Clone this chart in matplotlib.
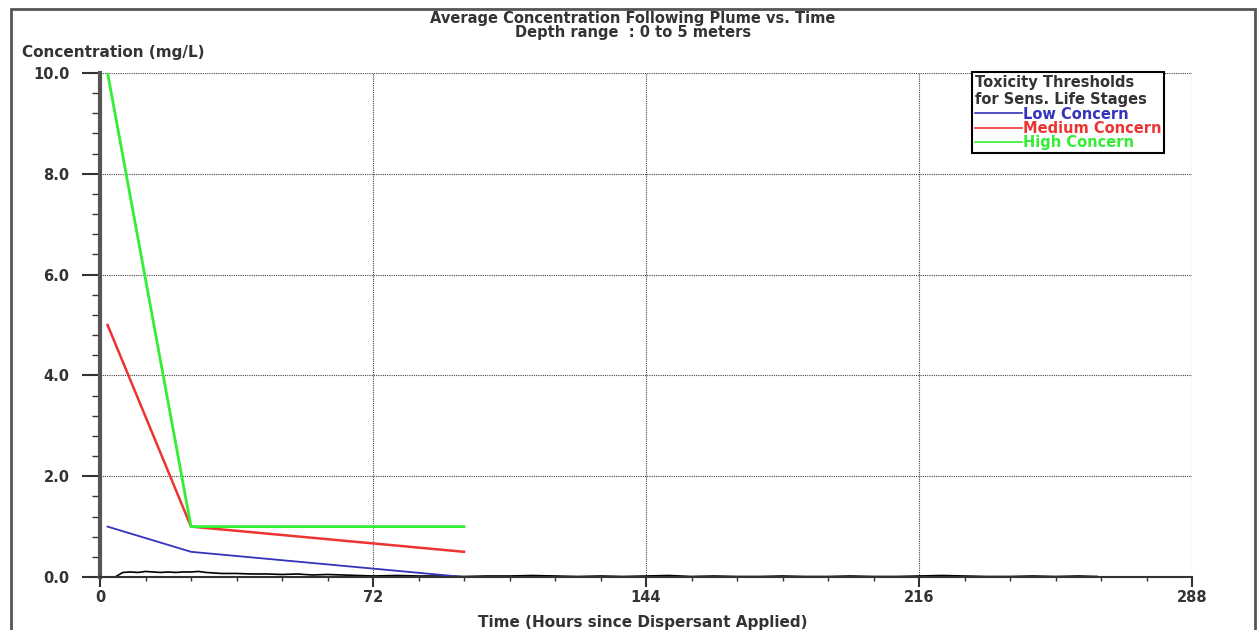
import numpy as np
import matplotlib.pyplot as plt
from matplotlib.patches import Rectangle
from matplotlib.lines import Line2D


# threshold lines (hours, mg/L)
thr_hours = [2, 24, 96]
low_vals = [1.0, 0.5, 0.0]
med_vals = [5.0, 1.0, 0.5]
high_vals = [10.0, 1.0, 1.0]

# average plume concentration
plume_hours = [4, 6, 8, 10, 12, 14, 16, 18, 20, 22, 24, 26, 28, 30, 32, 36, 40, 44,
               48, 52, 56, 60, 64, 68, 72, 78, 84, 90, 96, 102, 108, 114, 120, 126,
               132, 138, 144, 150, 156, 162, 168, 174, 180, 186, 192, 198, 204, 210,
               216, 222, 228, 234, 240, 246, 252, 258, 263]
plume_vals = [0.0, 0.09, 0.1, 0.09, 0.11, 0.1, 0.09, 0.1, 0.09, 0.1, 0.1, 0.11, 0.09,
              0.08, 0.07, 0.07, 0.06, 0.06, 0.05, 0.06, 0.04, 0.05, 0.04, 0.03, 0.02,
              0.03, 0.02, 0.02, 0.01, 0.02, 0.02, 0.03, 0.02, 0.01, 0.02, 0.01, 0.02,
              0.03, 0.01, 0.02, 0.01, 0.01, 0.02, 0.01, 0.01, 0.02, 0.01, 0.01, 0.02,
              0.03, 0.02, 0.01, 0.01, 0.02, 0.01, 0.02, 0.01]

legend_labels = ["Low Concern", "Medium Concern", "High Concern"]
colors = ["#3333bb", "#ee3333", "#33ee33"]
TXT = '#333333'


plt.rcParams['font.family'] = 'DejaVu Sans'
plt.rcParams['font.weight'] = 'bold'
fig = plt.figure(figsize=(12.58, 6.3), dpi=100)
ax = fig.add_axes([100/1258, 1 - 577/630, 1092/1258, 504/630])

ax.plot(plume_hours, plume_vals, color='black', lw=1.2)
ax.plot(thr_hours, low_vals, color=colors[0], lw=1.3)
ax.plot(thr_hours, med_vals, color=colors[1], lw=1.8)
ax.plot(thr_hours, high_vals, color=colors[2], lw=2)

ax.set_xlim(0, 288)
ax.set_ylim(0, 10)
ax.set_xticks([0, 72, 144, 216, 288])
ax.set_xticks(np.arange(0, 289, 12), minor=True)
ax.set_yticks([0, 2, 4, 6, 8, 10])
ax.set_yticks(np.arange(0, 10.01, 0.4), minor=True)
ax.set_yticklabels(["0.0", "2.0", "4.0", "6.0", "8.0", "10.0"])
ax.tick_params(axis='both', which='major', labelsize=10.5, width=1.5,
               color='#333333', labelcolor=TXT)
ax.tick_params(axis='y', which='major', length=13, pad=9)
ax.tick_params(axis='y', which='minor', length=6, width=1, color='#333333')
ax.tick_params(axis='x', which='major', length=7, pad=2)
ax.tick_params(axis='x', which='minor', length=3, width=1, color='#333333')
ax.grid(True, which='major', color='#444444', linestyle=(0, (1, 1)), linewidth=0.8)

for s in ['top', 'right']:
    ax.spines[s].set_visible(False)
ax.spines['left'].set_linewidth(3)
ax.spines['left'].set_color('#555555')
ax.spines['bottom'].set_linewidth(1.5)
ax.spines['bottom'].set_color('#333333')

fig.text(633/1258, 1 - 19/630, "Average Concentration Following Plume vs. Time",
         ha='center', va='center', fontsize=10.5, color=TXT)
fig.text(633/1258, 1 - 32/630, "Depth range  : 0 to 5 meters",
         ha='center', va='center', fontsize=10.5, color=TXT)
fig.text(22/1258, 1 - 52/630, "Concentration (mg/L)", ha='left', va='center',
         fontsize=11, color=TXT)
fig.text(643/1258, 1 - 623/630, "Time (Hours since Dispersant Applied)",
         ha='center', va='center', fontsize=11, color=TXT)

# outer frame
fig.patches.append(Rectangle((11/1258, -0.05), (1255 - 11)/1258, 1 - 9/630 + 0.05,
                             transform=fig.transFigure, fill=False,
                             edgecolor='#555555', lw=2))

handles = [Line2D([], [], color=c, lw=1.2) for c in colors]
leg = ax.legend(handles, legend_labels, title="Toxicity Thresholds\nfor Sens. Life Stages",
                loc='upper left', bbox_to_anchor=(972/1258, 1 - 72/630),
                bbox_transform=fig.transFigure, prop={'size': 10.5, 'weight': 'bold'},
                title_fontproperties={'size': 10.5, 'weight': 'bold'},
                frameon=True, fancybox=False, edgecolor='black', framealpha=1,
                handlelength=3.2, handletextpad=0.1, labelspacing=-0.05,
                borderpad=0.2, borderaxespad=0)
leg.get_frame().set_linewidth(1.5)
leg._legend_box.align = "left"
leg.get_title().set_color(TXT)
for t, c in zip(leg.get_texts(), colors):
    t.set_color(c)

fig.savefig("out.png", dpi=100)
